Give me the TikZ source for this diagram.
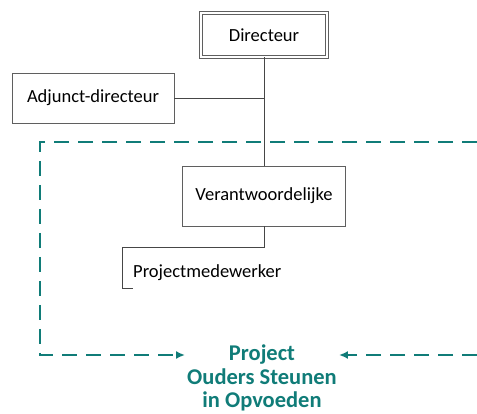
\documentclass[tikz,border=0pt]{standalone}
\usepackage{fontspec}
\setmainfont{Carlito}
\usetikzlibrary{arrows.meta}
\definecolor{projteal}{RGB}{16,124,120}
\definecolor{linegray}{RGB}{70,70,70}
\definecolor{boxgray}{RGB}{95,95,95}
\begin{document}
\begin{tikzpicture}
            [x = 1pt, y = -1pt,
             box/.style = {draw = boxgray, line width = 0.8pt, fill = white, inner sep = 2pt,
                           font = \fontsize{18.5}{22}\selectfont},
             conn/.style = {draw = linegray, line width = 0.8pt},
             frame/.style = {draw = projteal, line width = 2.2pt, dash pattern = on 15pt off 9pt},
             tip/.style = {-{Latex[length = 9pt, width = 8pt]}},
             projtext/.style = {text = projteal, align = center, inner sep = 2pt,
                                font = \bfseries\fontsize{22.5}{23.5}\selectfont}]
            \useasboundingbox (0,0) rectangle (477,414);
            % boxes
            \node[box, line width = 0.6pt, double = white, double distance = 2.6pt,
                  minimum width = 126pt, minimum height = 44pt] (dir) at (264,35) {Directeur};
            \node[box, minimum width = 162pt, minimum height = 50pt] (adj) at (93,98) {Adjunct-directeur};
            \node[box, minimum width = 163pt, minimum height = 60pt] (ver) at (264,196) {Verantwoordelijke};
            \node[anchor = base west, inner sep = 0pt, font = \fontsize{18.5}{22}\selectfont] (pm) at (133,278) {Projectmedewerker};
            \coordinate (pmfoot) at (pm.west |- 0,288);
            % connectors
            \draw[conn] (dir) -- (ver);
            \draw[conn] (adj) -- (adj -| dir);
            \draw[conn] (ver.south) -- ++(0,21) -| ([xshift = -11pt]pmfoot) -- (pmfoot);
            % project frame
            \node[projtext] (proj) at (262,378) {Project\\Ouders Steunen\\in Opvoeden};
            \coordinate (frameright) at (477,142);
            \coordinate (framecorner) at (40,142);
            \coordinate (arrowleft) at (40,355);
            \coordinate (arrowright) at (477,355);
            \draw[frame, tip] (frameright) -- (framecorner) -- (arrowleft) -- (arrowleft -| proj.west);
            \draw[frame, tip] (arrowright) -- (arrowright -| proj.east);
\end{tikzpicture}
\end{document}
